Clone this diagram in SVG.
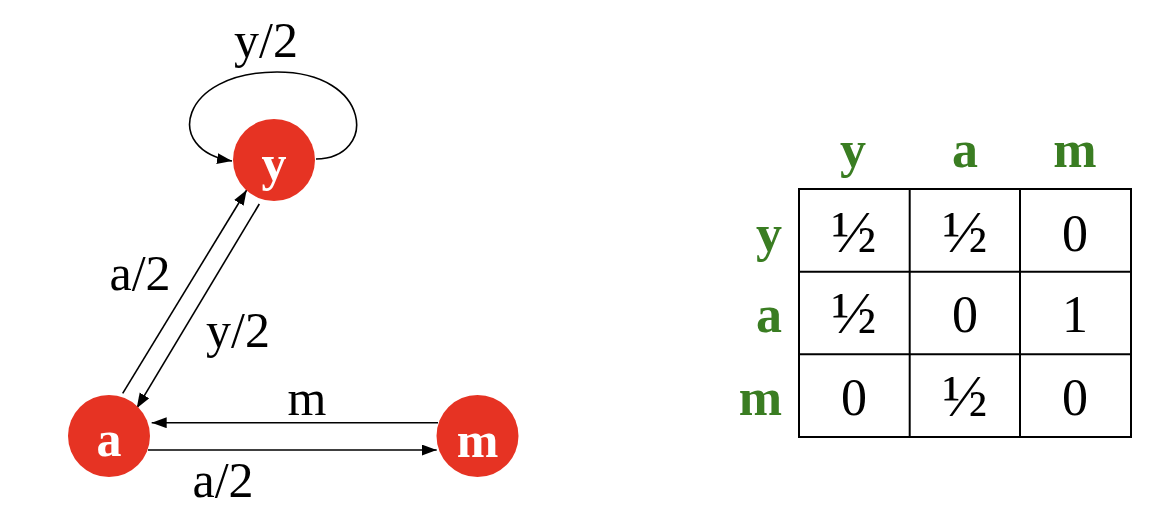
<svg xmlns="http://www.w3.org/2000/svg" width="1160" height="520" viewBox="0 0 1160 520">
<style>
.node{fill:#E63323;}
.nl{font-family:"Liberation Serif",serif;font-weight:bold;font-size:50px;fill:#fff;text-anchor:middle;}
.el{font-family:"Liberation Serif",serif;font-size:50px;fill:#000;text-anchor:middle;}
.edge{stroke:#000;stroke-width:1.6;fill:none;}
.hd{font-family:"Liberation Serif",serif;font-weight:bold;font-size:52px;fill:#3A7D22;}
.cell{font-family:"Liberation Serif",serif;font-size:52px;fill:#000;text-anchor:middle;}
.half{font-size:60px;}
.grid{stroke:#000;stroke-width:2;fill:none;}
</style>
<defs>
<marker id="arr" markerUnits="userSpaceOnUse" markerWidth="16" markerHeight="12" refX="15" refY="5.5" orient="auto">
<path d="M0,0 L15,5.5 L0,11 Z" fill="#000"/>
</marker>
</defs>
<rect width="1160" height="520" fill="#fff"/>
<g id="connectors">
<path class="edge" d="M316,159 C378,158 372,72 277,72 C180,72 162,150 232,161" marker-end="url(#arr)"/>
<line class="edge" x1="122.7" y1="393.3" x2="246.7" y2="190" marker-end="url(#arr)"/>
<line class="edge" x1="259.3" y1="204" x2="136.7" y2="408.3" marker-end="url(#arr)"/>
<line class="edge" x1="438" y1="422.7" x2="151.7" y2="422.7" marker-end="url(#arr)"/>
<line class="edge" x1="148" y1="450" x2="436.7" y2="450" marker-end="url(#arr)"/>
<text class="el" x="266" y="57">y/2</text>
<text class="el" x="140" y="290">a/2</text>
<text class="el" x="238" y="347">y/2</text>
<text class="el" x="307" y="415">m</text>
<text class="el" x="223" y="497">a/2</text>
</g>
<g id="node-y">
<circle class="node" cx="274" cy="160" r="41"/>
<text class="nl" x="274" y="180">y</text>
</g>
<g id="node-a">
<circle class="node" cx="109" cy="436" r="41"/>
<text class="nl" x="109" y="456">a</text>
</g>
<g id="node-m">
<circle class="node" cx="477.5" cy="436" r="41"/>
<text class="nl" x="477.5" y="457">m</text>
</g>
<g id="matrix">
<rect class="grid" x="799" y="189" width="332" height="248"/>
<line class="grid" x1="909.7" y1="189" x2="909.7" y2="437"/>
<line class="grid" x1="1020" y1="189" x2="1020" y2="437"/>
<line class="grid" x1="799" y1="271.7" x2="1131" y2="271.7"/>
<line class="grid" x1="799" y1="354.3" x2="1131" y2="354.3"/>
<text class="hd" x="853" y="167" text-anchor="middle">y</text>
<text class="hd" x="965" y="167" text-anchor="middle">a</text>
<text class="hd" x="1075" y="167" text-anchor="middle">m</text>
<text class="hd" x="782" y="251" text-anchor="end">y</text>
<text class="hd" x="782" y="332" text-anchor="end">a</text>
<text class="hd" x="782" y="415" text-anchor="end">m</text>
<text class="cell half" x="854" y="252">½</text>
<text class="cell half" x="965" y="252">½</text>
<text class="cell" x="1075" y="251">0</text>
<text class="cell half" x="854" y="333">½</text>
<text class="cell" x="965" y="332">0</text>
<text class="cell" x="1075" y="332">1</text>
<text class="cell" x="854" y="415">0</text>
<text class="cell half" x="965" y="416">½</text>
<text class="cell" x="1075" y="415">0</text>
</g>
</svg>
